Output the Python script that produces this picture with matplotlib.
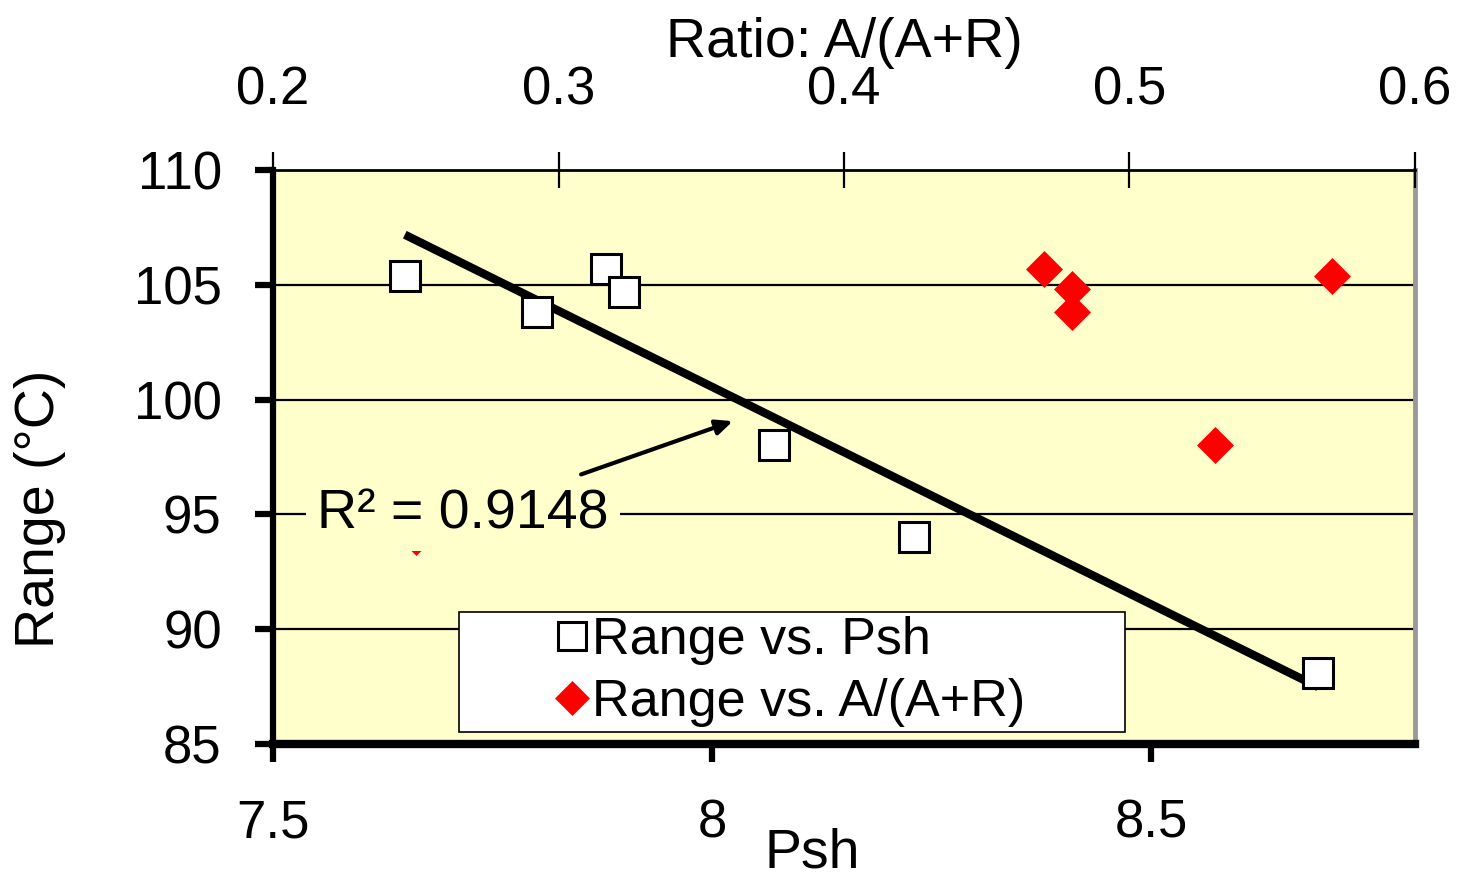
import numpy as np
import matplotlib.pyplot as plt
from matplotlib.patches import Rectangle

plt.rcParams['font.family'] = ['Liberation Sans', 'DejaVu Sans']

# Range vs. Psh
psh = [7.65, 7.80, 7.879, 7.90, 8.07, 8.23, 8.69]
rango_psh = [105.4, 103.8, 105.7, 104.7, 98.0, 94.0, 88.1]

# Range vs. A/(A+R)
ratio = [0.571, 0.480, 0.470, 0.480, 0.530, 0.250, 0.400]
rango_ratio = [105.4, 103.8, 105.7, 104.8, 98.0, 94.0, 88.1]

r2_texto = 'R² = 0.9148'

fig = plt.figure(figsize=(14.64, 8.82), dpi=100)
ax = fig.add_axes([0.1865, 0.1565, 0.78, 0.6508])
ax.set_facecolor('#FFFFCC')

ax.set_xlim(7.5, 8.8)
ax.set_ylim(85, 110)
ax.set_xticks([7.5, 8.0, 8.5])
ax.set_xticklabels(['7.5', '8', '8.5'])
ax.set_yticks([85, 90, 95, 100, 105, 110])

for v in [90, 95, 100, 105]:
    ax.axhline(v, color='black', linewidth=1.6, zorder=1)

# linea de tendencia (ajuste lineal de Range vs. Psh)
m, b = np.polyfit(psh, rango_psh, 1)
xt = np.array([min(psh), max(psh)])
ax.plot(xt, m * xt + b, color='black', linewidth=6, solid_capstyle='butt', zorder=3)

ax.plot(psh, rango_psh, linestyle='none', marker='s', markersize=21,
        markerfacecolor='white', markeredgecolor='black', markeredgewidth=2.2,
        zorder=4, label='Range vs. Psh')

ax.spines['left'].set_linewidth(4.5)
ax.spines['bottom'].set_linewidth(6)
ax.spines['top'].set_linewidth(2)
ax.spines['right'].set_linewidth(3.5)
ax.spines['right'].set_color('#999999')
ax.tick_params(axis='y', direction='out', length=13, width=4.5, labelsize=38, pad=24)
ax.tick_params(axis='x', direction='out', length=13, width=4.5, labelsize=38, pad=26)

ax.set_xlabel('Psh', fontsize=40)
ax.xaxis.set_label_coords(0.472, -0.215)
ax.xaxis.label.set_va('baseline')
ax.set_ylabel('Range (°C)', fontsize=40)
ax.yaxis.set_label_coords(-0.204, 0.409)
ax.yaxis.label.set_va('center')

ax2 = ax.twiny()
ax2.set_xlim(0.2, 0.6)
ax2.set_xticks([0.2, 0.3, 0.4, 0.5, 0.6])
ax2.set_xticklabels(['0.2', '0.3', '0.4', '0.5', '0.6'])
ax2.tick_params(axis='x', direction='inout', length=26, width=1.6, labelsize=38, pad=26)
ax2.set_xlabel('Ratio: A/(A+R)', fontsize=40, labelpad=6)
for s in ax2.spines.values():
    s.set_visible(False)

ax2.plot(ratio, rango_ratio, linestyle='none', marker='D', markersize=18,
         markerfacecolor='red', markeredgecolor='red', markeredgewidth=0.5,
         zorder=4, label='Range vs. A/(A+R)')

ax2.annotate('', xy=(0.3620, 99.1), xytext=(0.3070, 96.7),
             arrowprops=dict(arrowstyle='-|>,head_length=1.0,head_width=0.45',
                             color='black', linewidth=3), zorder=5)
ax2.text(0.2665, 95.0, r2_texto, fontsize=40, ha='center', va='center',
         bbox=dict(facecolor='#FFFFCC', edgecolor='none', pad=8), zorder=6)

# caja de la leyenda
caja = Rectangle((0.1629, 0.0209), 0.5832, 0.209, transform=ax2.transAxes,
                 facecolor='white', edgecolor='black', linewidth=1.2, zorder=9)
ax2.add_patch(caja)

h1, l1 = ax.get_legend_handles_labels()
h2, l2 = ax2.get_legend_handles_labels()
leg = ax2.legend(h1 + h2, l1 + l2, loc='center', bbox_to_anchor=(0.4545, 0.1254),
                 fontsize=37.5, frameon=False, handlelength=0.5, handletextpad=0.15,
                 borderpad=0.0, labelspacing=0.25, markerscale=0.95)
leg.set_zorder(10)

fig.savefig('out.png', dpi=100)
